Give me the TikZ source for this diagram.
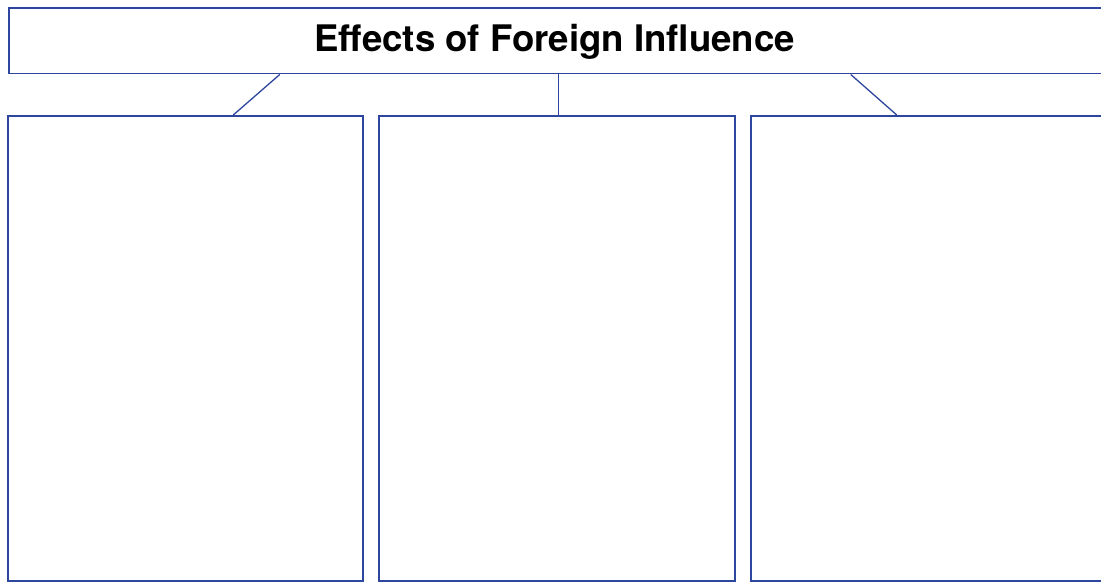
\documentclass[tikz,border=0pt]{standalone}
\usepackage{fontspec}
\newfontfamily\headfont{TeX Gyre Heros}
\usepackage{tikz}
\usetikzlibrary{positioning}
\definecolor{frameblue}{RGB}{45,70,158}

\begin{document}
\begin{tikzpicture}[x=1pt, y=-1pt, node distance=16pt]
	\tikzstyle{headbox}
	  =[draw=frameblue, line width=1.5pt, rectangle, inner sep=0pt,
	  minimum width=1110pt, minimum height=65.5pt]
	\tikzstyle{notebox}
	  =[draw=frameblue, line width=1.5pt, rectangle, inner sep=0pt,
	  minimum width=355pt, minimum height=465pt]
	\tikzstyle{link}
	  =[draw=frameblue, line width=1.3pt]

	\useasboundingbox (0,0) rectangle (1101,586);

	\node[headbox, anchor=north west] (title) at (8,7.5) {};
	\node[font=\headfont\bfseries\fontsize{36.6}{40}\selectfont] (titletext)
	  at ([xshift=-9pt,yshift=-1pt]title.center) {Effects of Foreign Influence};

	\node[notebox, anchor=north west] (left) at (7,115) {};
	\node[notebox, minimum width=356pt] (middle)
	  [right= 14.5pt of left] {};
	\node[notebox, minimum width=360pt] (right)
	  [right= 14.5pt of middle] {};

	\draw[link] ([xshift=48pt]left.north)--([xshift=-284pt]title.south);
	\draw[link] ([xshift=1.5pt]middle.north)--([xshift=1.5pt]middle.north |- title.south);
	\draw[link] ([xshift=-34pt]right.north)--([xshift=287pt]title.south);
\end{tikzpicture}
\end{document}
